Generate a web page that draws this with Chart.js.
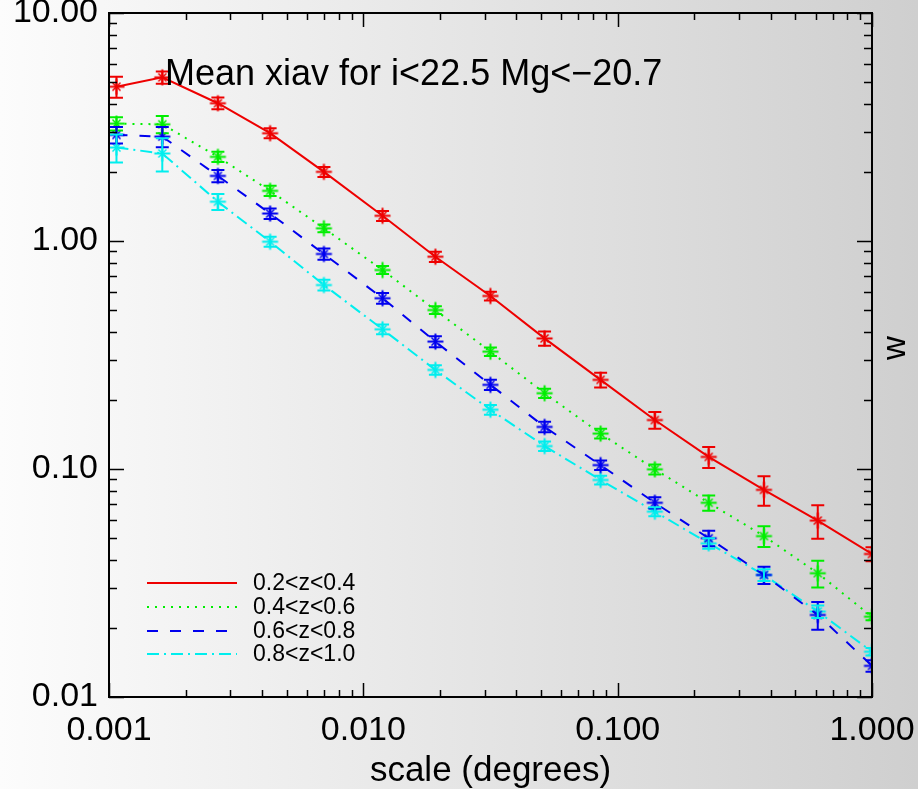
<!DOCTYPE html>
<html>
<head>
<meta charset="utf-8">
<script src="https://cdn.jsdelivr.net/npm/chart.js@4"></script>
<style>
html,body{margin:0;padding:0;background:#e8e8e8;}
#wrap{width:918px;height:789px;}
canvas{display:block;}
</style>
</head>
<body>
<div id="wrap"><canvas id="c" width="918" height="789"></canvas></div>
<script>
// ---- data ----
const scaleDeg = [0.00107, 0.00162, 0.00268, 0.0043, 0.0070, 0.0119, 0.0192, 0.0316, 0.0516, 0.0857, 0.140, 0.228, 0.376, 0.612, 1.0];

const seriesNames = ["0.2<z<0.4", "0.4<z<0.6", "0.6<z<0.8", "0.8<z<1.0"];

const wRed   = [4.75, 5.22, 4.02, 2.97, 2.01, 1.29, 0.853, 0.574, 0.374, 0.246, 0.164, 0.113, 0.081, 0.0594, 0.0424];
const errRed = [0.50, 0.32, 0.24, 0.15, 0.10, 0.065, 0.045, 0.025, 0.027, 0.018, 0.014, 0.012, 0.012, 0.010, 0.003];

const wGreen   = [3.27, 3.25, 2.34, 1.66, 1.137, 0.746, 0.498, 0.327, 0.215, 0.143, 0.0997, 0.0711, 0.0508, 0.0349, 0.0225];
const errGreen = [0.22, 0.28, 0.12, 0.085, 0.045, 0.03, 0.02, 0.014, 0.010, 0.007, 0.005, 0.0055, 0.0053, 0.0047, 0.0008];

const wBlue   = [2.92, 2.87, 1.93, 1.32, 0.877, 0.561, 0.362, 0.234, 0.153, 0.104, 0.0711, 0.0497, 0.0343, 0.0229, 0.0137];
const errBlue = [0.24, 0.29, 0.12, 0.07, 0.05, 0.03, 0.02, 0.012, 0.008, 0.005, 0.004, 0.0039, 0.003, 0.0032, 0.0008];

const wCyan   = [2.57, 2.42, 1.487, 0.993, 0.641, 0.410, 0.272, 0.182, 0.126, 0.0895, 0.065, 0.0472, 0.0343, 0.0237, 0.0158];
const errCyan = [0.36, 0.40, 0.12, 0.05, 0.035, 0.02, 0.013, 0.009, 0.006, 0.004, 0.003, 0.0025, 0.002, 0.0015, 0.0006];

const xTickValues = [0.001, 0.01, 0.1, 1];
const xTickLabels = ["0.001", "0.010", "0.100", "1.000"];
const yTickValues = [0.01, 0.1, 1, 10];
const yTickLabels = ["0.01", "0.10", "1.00", "10.00"];

const titleText = "Mean xiav for i<22.5 Mg<\u221220.7";
const xTitle = "scale (degrees)";
const yTitle = "w";

// ---- chart ----
const FONT = "'Liberation Sans', Arial, Helvetica, sans-serif";
const colors = ["#ee0000", "#00ee00", "#0000ee", "#00eeee"];
const dashes = [[], [2, 6], [11, 12], [12, 5, 2, 5]];
const values = [wRed, wGreen, wBlue, wCyan];
const errors = [errRed, errGreen, errBlue, errCyan];

// IDL-like asterisk marker: long "+" arms, short diagonals
function asterisk(color) {
  const c = document.createElement('canvas');
  c.width = 19; c.height = 19;
  const g = c.getContext('2d');
  g.strokeStyle = color;
  g.lineWidth = 2;
  g.beginPath();
  g.moveTo(1.5, 9.5); g.lineTo(17.5, 9.5);
  g.moveTo(9.5, 1.5); g.lineTo(9.5, 17.5);
  g.stroke();
  g.lineWidth = 1.5;
  g.beginPath();
  g.moveTo(5.5, 5.5); g.lineTo(13.5, 13.5);
  g.moveTo(13.5, 5.5); g.lineTo(5.5, 13.5);
  g.stroke();
  return c;
}

const datasets = values.map((vals, i) => ({
  label: seriesNames[i],
  data: scaleDeg.map((x, j) => ({x: x, y: vals[j]})),
  errors: errors[i],
  borderColor: colors[i],
  backgroundColor: colors[i],
  borderWidth: 2,
  borderDash: dashes[i],
  pointStyle: asterisk(colors[i]),
  pointRadius: 8,
  fill: false,
  tension: 0,
  clip: 0
}));

function minorValues(min, max) {
  const out = [];
  for (let d = Math.floor(Math.log10(min)); d <= Math.ceil(Math.log10(max)); d++) {
    for (let m = 1; m <= 9; m++) {
      const v = m * Math.pow(10, d);
      if (v >= min * 0.999 && v <= max * 1.001) out.push({v: v, major: m === 1});
    }
  }
  return out;
}

const deco = {
  id: 'deco',
  beforeDraw(chart) {
    const ctx = chart.ctx;
    const g = ctx.createLinearGradient(0, 0, chart.width, 0);
    g.addColorStop(0, '#fcfcfc');
    g.addColorStop(1, '#cfcfcf');
    ctx.save();
    ctx.fillStyle = g;
    ctx.fillRect(0, 0, chart.width, chart.height);
    ctx.restore();
  },
  afterDatasetsDraw(chart) {
    const ctx = chart.ctx, a = chart.chartArea;
    const xs = chart.scales.x, ys = chart.scales.y;
    ctx.save();
    ctx.beginPath();
    ctx.rect(a.left, a.top, a.right - a.left, a.bottom - a.top);
    ctx.clip();
    chart.data.datasets.forEach((ds) => {
      ctx.strokeStyle = ds.borderColor;
      ctx.lineWidth = 2;
      ctx.setLineDash([]);
      ds.data.forEach((p, j) => {
        const e = ds.errors[j];
        const x = xs.getPixelForValue(p.x);
        const y1 = ys.getPixelForValue(p.y + e);
        const y2 = ys.getPixelForValue(Math.max(p.y - e, 1e-6));
        ctx.beginPath();
        ctx.moveTo(x, y1); ctx.lineTo(x, y2);
        ctx.moveTo(x - 6.5, y1); ctx.lineTo(x + 6.5, y1);
        ctx.moveTo(x - 6.5, y2); ctx.lineTo(x + 6.5, y2);
        ctx.stroke();
      });
    });
    ctx.restore();
  },
  afterDraw(chart) {
    const ctx = chart.ctx, a = chart.chartArea;
    const xs = chart.scales.x, ys = chart.scales.y;
    ctx.save();
    ctx.strokeStyle = '#000';
    ctx.lineWidth = 2;
    ctx.setLineDash([]);
    ctx.strokeRect(a.left, a.top, a.right - a.left, a.bottom - a.top);
    ctx.lineWidth = 1.5;
    ctx.beginPath();
    minorValues(xs.min, xs.max).forEach(t => {
      const x = Math.round(xs.getPixelForValue(t.v)) + 0.5;
      const L = t.major ? 14 : 7;
      ctx.moveTo(x, a.bottom); ctx.lineTo(x, a.bottom - L);
      ctx.moveTo(x, a.top); ctx.lineTo(x, a.top + L);
    });
    minorValues(ys.min, ys.max).forEach(t => {
      const y = Math.round(ys.getPixelForValue(t.v)) + 0.5;
      const L = t.major ? 15 : 8;
      ctx.moveTo(a.left, y); ctx.lineTo(a.left + L, y);
      ctx.moveTo(a.right, y); ctx.lineTo(a.right - L, y);
    });
    ctx.stroke();

    // title inside the plot
    ctx.fillStyle = '#000';
    ctx.font = '36px ' + FONT;
    ctx.textAlign = 'left';
    ctx.textBaseline = 'alphabetic';
    ctx.fillText(titleText, 165, 85);

    // right-hand axis title
    ctx.save();
    ctx.translate(896, 348);
    ctx.rotate(-Math.PI / 2);
    ctx.textAlign = 'center';
    ctx.textBaseline = 'middle';
    ctx.font = '33px ' + FONT;
    ctx.fillText(yTitle, 0, 0);
    ctx.restore();

    // legend
    const rows = [583, 607, 631, 654];
    chart.data.datasets.forEach((ds, i) => {
      const y = rows[i];
      ctx.strokeStyle = ds.borderColor;
      ctx.lineWidth = 2;
      ctx.setLineDash(ds.borderDash);
      ctx.beginPath();
      ctx.moveTo(147, y); ctx.lineTo(237, y);
      ctx.stroke();
      ctx.setLineDash([]);
      ctx.fillStyle = '#000';
      ctx.font = '23px ' + FONT;
      ctx.textAlign = 'left';
      ctx.textBaseline = 'middle';
      ctx.fillText(ds.label, 253, y + 1);
    });
    ctx.restore();
  }
};

Chart.defaults.font.family = FONT;
Chart.defaults.color = '#000';

new Chart(document.getElementById('c'), {
  type: 'line',
  data: {datasets: datasets},
  plugins: [deco],
  options: {
    responsive: false,
    animation: false,
    devicePixelRatio: 1,
    layout: {padding: {top: 13, right: 46, left: 0, bottom: 0}},
    plugins: {legend: {display: false}, tooltip: {enabled: false}, title: {display: false}},
    scales: {
      x: {
        type: 'logarithmic',
        min: 0.001, max: 1,
        grid: {display: false, drawTicks: false},
        border: {display: false},
        afterBuildTicks: s => { s.ticks = xTickValues.map(v => ({value: v})); },
        afterFit: s => { s.height = 92; s.paddingLeft = 0; s.paddingRight = 0; },
        ticks: {
          autoSkip: false, maxRotation: 0, padding: 13,
          font: {size: 34},
          callback: (v, i) => xTickLabels[i]
        },
        title: {display: true, text: xTitle, font: {size: 35}, padding: {top: 0, bottom: -3}}
      },
      y: {
        type: 'logarithmic',
        min: 0.01, max: 10,
        grid: {display: false, drawTicks: false},
        border: {display: false},
        afterBuildTicks: s => { s.ticks = yTickValues.map(v => ({value: v})); },
        afterFit: s => { s.width = 109; s.paddingTop = 0; s.paddingBottom = 0; },
        ticks: {
          autoSkip: false, padding: 11,
          font: {size: 34},
          callback: (v, i) => yTickLabels[i]
        }
      }
    }
  }
});
</script>
</body>
</html>
